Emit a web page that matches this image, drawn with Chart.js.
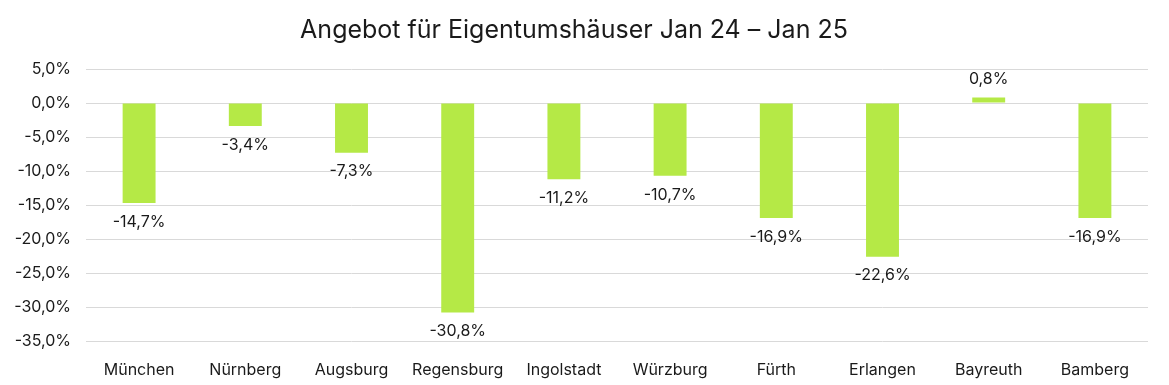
<!DOCTYPE html>
<html>
<head>
<meta charset="utf-8">
<script src="https://cdn.jsdelivr.net/npm/chart.js@4"></script>
<style>
  html, body { margin: 0; padding: 0; background: #fff; }
  #wrap { width: 1169px; height: 385px; }
</style>
</head>
<body>
<div id="wrap"><canvas id="chart"></canvas></div>
<script>
// Daten (Veränderung in %)
const cities = ['München', 'Nürnberg', 'Augsburg', 'Regensburg', 'Ingolstadt', 'Würzburg', 'Fürth', 'Erlangen', 'Bayreuth', 'Bamberg'];
const changes = [-14.7, -3.4, -7.3, -30.8, -11.2, -10.7, -16.9, -22.6, 0.8, -16.9];
const yTicks = [5, 0, -5, -10, -15, -20, -25, -30, -35];

const FONT = 'Inter, "Open Sans", sans-serif';
const TEXT = '#1a1a1a';

function fmt(v) {
    return v.toFixed(1).replace('.', ',') + '%';
}

// Beschriftung an den Balken
const valueLabels = {
    id: 'valueLabels',
    afterDatasetsDraw(chart) {
        const ctx = chart.ctx;
        const meta = chart.getDatasetMeta(0);
        ctx.save();
        ctx.font = '16px ' + FONT;
        ctx.fillStyle = TEXT;
        ctx.textAlign = 'center';
        ctx.textBaseline = 'middle';
        meta.data.forEach((bar, i) => {
            const v = changes[i];
            const y = v < 0 ? bar.y + 19 : bar.y - 18;
            ctx.fillText(fmt(v), bar.x, y);
        });
        ctx.restore();
    }
};

new Chart(document.getElementById('chart'), {
    type: 'bar',
    data: {
        labels: cities,
        datasets: [{
            data: changes,
            backgroundColor: '#b5e946',
            barPercentage: 0.31,
            categoryPercentage: 1
        }]
    },
    options: {
        responsive: true,
        maintainAspectRatio: false,
        animation: false,
        layout: { padding: { left: 0, right: 21, top: 0, bottom: 0 } },
        plugins: {
            legend: { display: false },
            tooltip: { enabled: false },
            title: {
                display: true,
                text: 'Angebot für Eigentumshäuser Jan 24 – Jan 25',
                color: TEXT,
                font: { family: FONT, size: 25, weight: 'normal' },
                padding: { top: 15, bottom: 24 }
            }
        },
        scales: {
            y: {
                min: -35,
                max: 5,
                afterBuildTicks: scale => { scale.ticks = yTicks.map(v => ({ value: v })); },
                afterFit: scale => { scale.width = 86; },
                grid: { color: '#d9d9d9', lineWidth: 1, drawTicks: false },
                border: { display: false },
                ticks: {
                    padding: 15,
                    color: TEXT,
                    font: { family: FONT, size: 16 },
                    callback: v => fmt(v)
                }
            },
            x: {
                afterFit: scale => { scale.height = 44; },
                grid: { display: false },
                border: { display: false },
                ticks: {
                    padding: 12,
                    color: TEXT,
                    font: { family: FONT, size: 16 },
                    maxRotation: 0
                }
            }
        }
    },
    plugins: [valueLabels]
});
</script>
</body>
</html>
